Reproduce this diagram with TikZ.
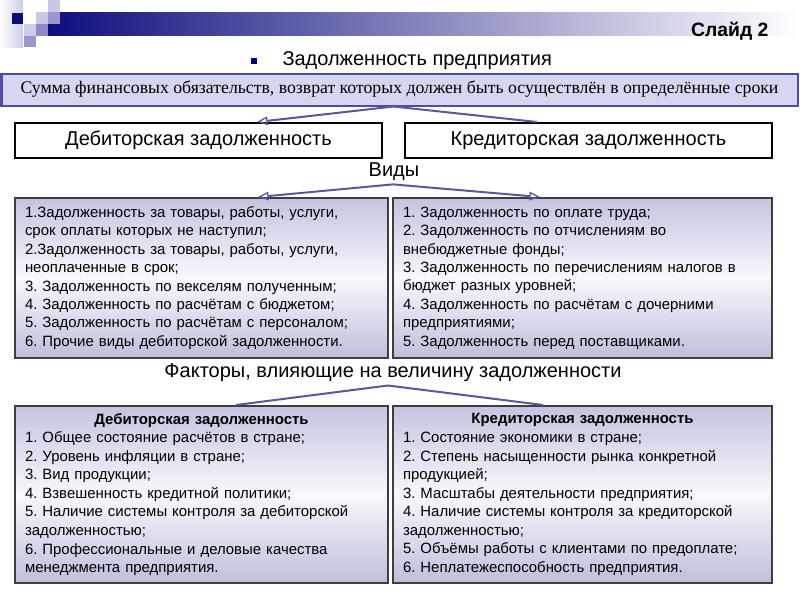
\documentclass[tikz,border=0pt]{standalone}
\usepackage{fontspec}
\setmainfont{Liberation Sans}
\newfontfamily\timesfont{Liberation Serif}
\usetikzlibrary{arrows.meta,calc}
\frenchspacing

\tikzset{every picture/.style={line width=0.75pt}}
\tikzset{
	conn/.style={draw={rgb, 255:red, 88; green, 88; blue, 155 }, line width=1.5pt},
	tip/.style={-{Triangle[open,length=8pt,width=6.5pt,line width=1pt]}},
	sumbox/.style={draw={rgb, 255:red, 78; green, 78; blue, 158 }, line width=1.5pt, fill={rgb, 255:red, 214; green, 214; blue, 240 }, minimum width=597pt, minimum height=24pt, inner sep=0pt, font=\timesfont\fontsize{13.3}{15}\selectfont},
	headbox/.style={draw=black, line width=1.5pt, fill=white, minimum width=275.25pt, minimum height=26.25pt, inner sep=0pt, font=\fontsize{15}{18}\selectfont},
	listbox/.style={draw={rgb, 255:red, 62; green, 62; blue, 62 }, line width=1.5pt, top color={rgb, 255:red, 196; green, 196; blue, 224 }, bottom color={rgb, 255:red, 190; green, 190; blue, 220 }, middle color={rgb, 255:red, 248; green, 248; blue, 252 }, align=left, inner xsep=7.5pt, inner ysep=0pt, font=\fontsize{11.2}{13.8}\selectfont},
	leftbox/.style={listbox, text width=264.75pt},
	rightbox/.style={listbox, text width=269.25pt},
	plain/.style={inner sep=0pt, font=\fontsize{15}{18}\selectfont}
}
\newcommand{\boxtitle}[1]{\makebox[\hsize][c]{\bfseries #1}}

\begin{document}
\begin{tikzpicture}[x=0.75pt,y=0.75pt,yscale=-1,xscale=1]
\useasboundingbox (0,0) rectangle (800,600);

%Shape: Header Bar
\shade [left color={rgb, 255:red, 14; green, 14; blue, 125 }, right color=white] (48,12) rectangle (800,35);
%Shape: Squares
\shade [left color=white, right color={rgb, 255:red, 205; green, 205; blue, 232 }] (0,0) rectangle (23,47);
\fill [fill={rgb, 255:red, 10; green, 10; blue, 120 }] (12,13) rectangle (23,24);
\fill [fill={rgb, 255:red, 200; green, 200; blue, 230 }] (48,0) rectangle (60,12);
\fill [fill={rgb, 255:red, 200; green, 200; blue, 230 }] (36,12) rectangle (48,24);
\fill [fill={rgb, 255:red, 152; green, 152; blue, 204 }] (48,12) rectangle (60,24);
\fill [fill={rgb, 255:red, 205; green, 205; blue, 232 }] (24,24) rectangle (36,36);
\fill [fill={rgb, 255:red, 140; green, 140; blue, 200 }] (36,24) rectangle (48,36);
\fill [fill={rgb, 255:red, 152; green, 152; blue, 204 }] (24,36) rectangle (36,47);

% Text Node
\node [anchor=east, inner sep=0pt, font=\bfseries\fontsize{14.5}{17}\selectfont] (slide) at (769,31) {Слайд 2};
% Bullet
\node [fill={rgb, 255:red, 0; green, 0; blue, 128 }, minimum size=4.5pt, inner sep=0pt] (bull) at (254,61) {};
% Text Node
\node [plain, anchor=west] (title) at (282,61) {Задолженность предприятия};

%Shape: Rectangle
\node [sumbox] (summ) at (399.5,89.5) {Сумма финансовых обязательств, возврат которых должен быть осуществлён в определённые сроки};
\node [headbox] (deb) at (198.5,140.5) {Дебиторская задолженность};
\node [headbox] (kred) at (588.5,140.5) {Кредиторская задолженность};

% Text Node
\node [plain] (vidy) at (394,172) {Виды};

\node [leftbox, minimum height=120pt] (debvid) at (201.5,278) {1.Задолженность за товары, работы, услуги,\\
срок оплаты которых не наступил;\\
2.Задолженность за товары, работы, услуги,\\
неоплаченные в срок;\\
3. Задолженность по векселям полученным;\\
4. Задолженность по расчётам с бюджетом;\\
5. Задолженность по расчётам с персоналом;\\
6. Прочие виды дебиторской задолженности.};
\node [rightbox, minimum height=120pt] (kredvid) at (582.5,278) {1. Задолженность по оплате труда;\\
2. Задолженность по отчислениям во\\
внебюджетные фонды;\\
3. Задолженность по перечислениям налогов в\\
бюджет разных уровней;\\
4. Задолженность по расчётам с дочерними\\
предприятиями;\\
5. Задолженность перед поставщиками.};

% Text Node
\node [plain] (fact) at (393,373) {Факторы, влияющие на величину задолженности};

\node [leftbox, minimum height=132.75pt, font=\fontsize{11.2}{13.9}\selectfont] (debfac) at (201.5,494.5) {\boxtitle{Дебиторская задолженность}\\
1. Общее состояние расчётов в стране;\\
2. Уровень инфляции в стране;\\
3. Вид продукции;\\
4. Взвешенность кредитной политики;\\
5. Наличие системы контроля за дебиторской\\
задолженностью;\\
6. Профессиональные и деловые качества\\
менеджмента предприятия.};
\node [rightbox, minimum height=132.75pt, font=\fontsize{11.2}{13.9}\selectfont] (kredfac) at (582.5,494.5) {\boxtitle{Кредиторская задолженность}\\
1. Состояние экономики в стране;\\
2. Степень насыщенности рынка конкретной\\
продукцией;\\
3. Масштабы деятельности предприятия;\\
4. Наличие системы контроля за кредиторской\\
задолженностью;\\
5. Объёмы работы с клиентами по предоплате;\\
6. Неплатежеспособность предприятия.};

%Straight Lines
\draw [conn, tip] ($(summ.south)+(-6,0)$) -- ($(deb.north)+(58.5,0)$);
\draw [conn] ($(summ.south)+(-6,0)$) -- ($(kred.north)+(-51.5,0)$);
\draw [conn, tip] ($(vidy.south)+(-1,3)$) -- ($(debvid.north)+(56.5,0)$);
\draw [conn, tip] ($(vidy.south)+(-1,3)$) -- ($(kredvid.north)+(-42.5,0)$);
\draw [conn] ($(fact.south)+(-5,3)$) -- ($(debfac.north)+(34.5,0)$);
\draw [conn] ($(fact.south)+(-5,3)$) -- ($(kredfac.north)+(-39.5,0)$);

\end{tikzpicture}
\end{document}
